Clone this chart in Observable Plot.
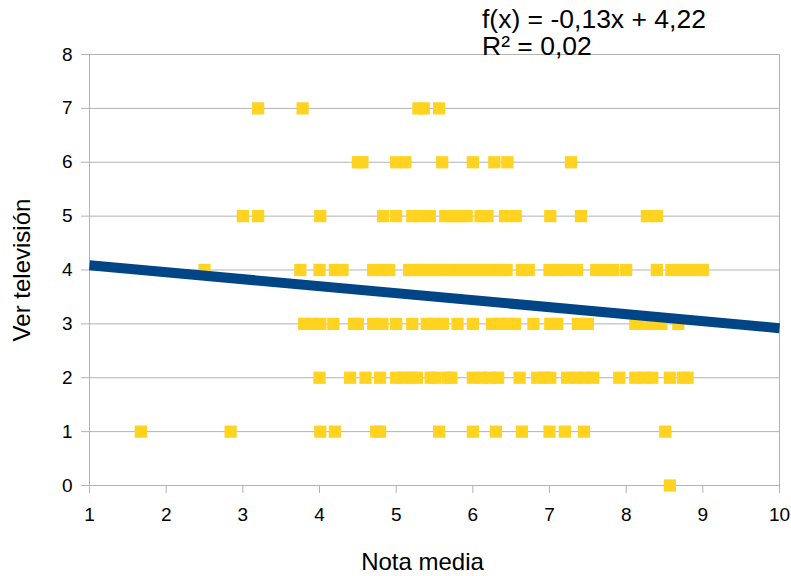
<!DOCTYPE html>
<html>
<head>
<meta charset="utf-8">
<script src="https://cdn.jsdelivr.net/npm/d3@7"></script>
<script src="https://cdn.jsdelivr.net/npm/@observablehq/plot@0.6"></script>
<style>
  body { margin: 0; background: #fff; }
  #wrap { position: relative; width: 791px; height: 576px; font-family: "Liberation Sans", Arial, sans-serif; }
  #eq { position: absolute; left: 482px; top: 6px; font-size: 26.5px; line-height: 27px; color: #000; white-space: pre; }
</style>
</head>
<body>
<div id="wrap"><div id="eq"></div></div>
<script>
// "Ver televisión" level (y) and "Nota media" values (x) per level
const row0 = [8.57];
const row1 = [1.67, 2.84, 4.01, 4.20, 4.74, 4.79, 5.56, 6.0, 6.30, 6.64, 7.0, 7.20, 7.45, 8.51];
const row2 = [4.0, 4.40, 4.60, 4.79, 5.0, 5.10, 5.19, 5.27, 5.45, 5.51, 5.67, 5.72, 6.0, 6.11, 6.22, 6.33, 6.61, 6.84, 6.94, 7.01, 7.23, 7.35, 7.46, 7.57, 7.91, 8.12, 8.23, 8.34, 8.57, 8.74, 8.80];
const row3 = [3.80, 3.90, 4.01, 4.18, 4.45, 4.50, 4.70, 4.82, 5.0, 5.21, 5.40, 5.51, 5.61, 5.80, 6.0, 6.25, 6.36, 6.46, 6.55, 6.79, 7.01, 7.10, 7.37, 7.50, 8.12, 8.23, 8.34, 8.46, 8.68];
const row4 = [2.5, 3.75, 4.0, 4.2, 4.3, 4.70, 4.80, 4.91, 5.17, 5.25, 5.33, 5.42, 5.51, 5.59, 5.67, 5.76, 5.85, 5.93, 6.02, 6.10, 6.19, 6.28, 6.37, 6.44, 6.64, 6.73, 7.0, 7.1, 7.22, 7.36, 7.61, 7.71, 7.83, 8.0, 8.40, 8.59, 8.69, 8.81, 8.93, 9.0];
const row5 = [3.0, 3.2, 4.01, 4.83, 5.0, 5.21, 5.31, 5.44, 5.64, 5.73, 5.82, 5.92, 6.10, 6.19, 6.42, 6.56, 7.01, 7.41, 8.27, 8.40];
const row6 = [4.5, 4.56, 5.0, 5.12, 5.6, 6.0, 6.28, 6.45, 7.28];
const row7 = [3.2, 3.78, 5.29, 5.36, 5.56];

const xTicks = [1, 2, 3, 4, 5, 6, 7, 8, 9, 10];
const yTicks = [0, 1, 2, 3, 4, 5, 6, 7, 8];
const slope = -0.13;
const intercept = 4.22;
const r2 = 0.02;
const xLabel = "Nota media";
const yLabel = "Ver televisión";

const rows = [row0, row1, row2, row3, row4, row5, row6, row7];
const points = rows.flatMap((xs, level) => xs.map(x => ({x, y: level})));
const xDomain = [xTicks[0], xTicks[xTicks.length - 1]];
const trend = xDomain.map(x => ({x, y: intercept + slope * x}));

const fmt = v => v.toFixed(2).replace(".", ",");
document.getElementById("eq").textContent =
  `f(x) = ${fmt(slope)}x + ${fmt(intercept)}\nR² = ${fmt(r2)}`;

const chart = Plot.plot({
  width: 791,
  height: 576,
  marginLeft: 89,
  marginRight: 12,
  marginTop: 54,
  marginBottom: 91,
  style: {fontFamily: "Liberation Sans, Arial, sans-serif", fontSize: "19px", color: "#000", background: "transparent"},
  x: {domain: xDomain},
  y: {domain: [yTicks[0], yTicks[yTicks.length - 1]]},
  marks: [
    Plot.gridY(yTicks, {stroke: "#b3b3b3", strokeOpacity: 1, strokeWidth: 1}),
    Plot.ruleX(xDomain, {stroke: "#b3b3b3", strokeWidth: 1}),
    Plot.axisX(xTicks, {tickSize: 8, tickPadding: 14, stroke: "#b3b3b3", fill: "#000", label: null, fontSize: 19, tickFormat: d3.format("d")}),
    Plot.axisY(yTicks, {tickSize: 8, tickPadding: 9, stroke: "#b3b3b3", fill: "#000", label: null, fontSize: 19, tickFormat: d3.format("d")}),
    Plot.dot(points, {x: "x", y: "y", symbol: "square", r: 6.9, fill: "#ffd320", stroke: "none"}),
    Plot.line(trend, {x: "x", y: "y", stroke: "#004586", strokeWidth: 10, strokeLinecap: "butt"}),
    Plot.text([xLabel], {frameAnchor: "bottom", dy: 77, dx: -12, textAnchor: "middle", lineAnchor: "middle", fontSize: 24, fill: "#000"}),
    Plot.text([yLabel], {frameAnchor: "left", dx: -67, rotate: -90, textAnchor: "middle", lineAnchor: "middle", fontSize: 24, fill: "#000"})
  ]
});
document.getElementById("wrap").prepend(chart);
chart.style.position = "absolute";
chart.style.left = "0";
chart.style.top = "0";
</script>
</body>
</html>
